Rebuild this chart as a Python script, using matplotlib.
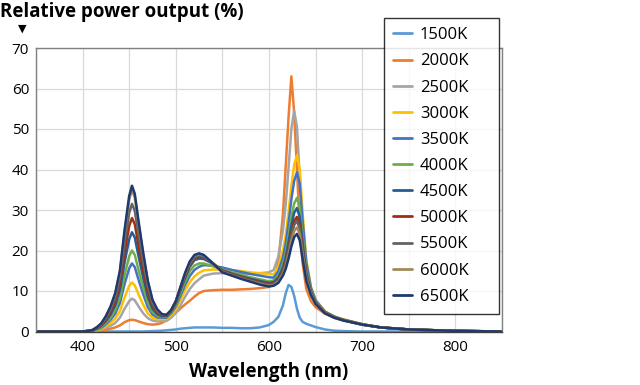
import matplotlib
matplotlib.use("Agg")
import matplotlib.pyplot as plt
from matplotlib.ticker import MultipleLocator

plt.rcParams['font.family'] = ['Open Sans', 'DejaVu Sans']

wavelength = [350, 400, 410, 415, 420, 425, 430, 435, 440, 445,
              450, 453, 456, 460, 465, 470, 475, 480, 485, 490,
              495, 500, 505, 510, 515, 520, 525, 530, 540, 550,
              560, 570, 580, 590, 600, 605, 610, 615, 618, 621,
              624, 627, 630, 633, 636, 640, 645, 650, 660, 670,
              680, 700, 720, 750, 800, 850]

labels = ["1500K", "2000K", "2500K", "3000K", "3500K", "4000K",
          "4500K", "5000K", "5500K", "6000K", "6500K"]
colors = ["#5B9BD5", "#ED7D31", "#A5A5A5", "#FFC000", "#4472C4", "#70AD47",
          "#255E91", "#9E2E1A", "#636363", "#A08A5A", "#1F3A70"]

s1500 = [0, 0, 0, 0, 0, 0, 0, 0, 0, 0,
         0, 0, 0, 0, 0, 0.05, 0.1, 0.15, 0.2, 0.3,
         0.4, 0.5, 0.7, 0.8, 0.9, 1.0, 1.0, 1.0, 1.0, 0.9,
         0.9, 0.8, 0.8, 1.0, 1.6, 2.4, 3.6, 6.5, 9.5, 11.5,
         11.0, 8.8, 5.6, 3.4, 2.4, 1.9, 1.5, 1.1, 0.5, 0.2,
         0.1, 0, 0, 0, 0, 0]
s2000 = [0, 0, 0, 0.1, 0.2, 0.4, 0.7, 1.0, 1.5, 2.3,
         2.8, 2.9, 2.8, 2.5, 2.1, 1.8, 1.7, 1.8, 2.1, 2.8,
         3.6, 4.6, 5.7, 6.7, 7.6, 8.6, 9.5, 10.0, 10.2, 10.3,
         10.3, 10.4, 10.5, 10.7, 11.0, 12.3, 17.0, 29.0, 41.0, 53.0,
         63.0, 54.0, 40.0, 26.0, 17.0, 10.5, 7.5, 6.0, 4.4, 3.4,
         2.9, 1.8, 1.0, 0.5, 0.15, 0]
s2500 = [0, 0, 0.1, 0.2, 0.5, 0.9, 1.4, 2.1, 3.4, 5.6,
         7.5, 8.1, 7.7, 6.2, 4.5, 3.3, 2.7, 2.5, 2.6, 2.6,
         3.4, 4.6, 6.5, 8.6, 10.5, 11.9, 12.9, 13.8, 14.3, 14.4,
         14.4, 14.3, 14.3, 14.4, 14.6, 15.2, 18.5, 25.0, 31.5, 40.5,
         50.0, 54.5, 50.5, 38.0, 26.0, 15.0, 9.8, 7.2, 4.8, 3.6,
         2.9, 1.8, 1.0, 0.5, 0.15, 0]
s3000 = [0, 0, 0.1, 0.3, 0.7, 1.3, 2.1, 3.2, 5.0, 8.4,
         11.3, 12.1, 11.4, 9.2, 6.6, 4.5, 3.4, 3.0, 3.1, 3.1,
         4.0, 5.5, 7.8, 10.2, 12.2, 13.6, 14.5, 15.1, 15.3, 15.3,
         15.2, 14.9, 14.6, 14.4, 14.2, 14.1, 15.9, 20.0, 24.0, 29.5,
         36.0, 41.2, 43.5, 40.0, 29.5, 17.8, 11.0, 7.8, 5.0, 3.7,
         3.0, 1.8, 1.0, 0.5, 0.15, 0]
s3500 = [0, 0, 0.1, 0.5, 0.9, 1.8, 2.9, 4.4, 7.0, 11.7,
         15.6, 16.8, 15.9, 12.8, 9.2, 6.0, 4.2, 3.5, 3.4, 3.4,
         4.5, 6.2, 8.8, 11.5, 13.7, 15.2, 16.0, 16.4, 16.2, 15.8,
         15.2, 14.7, 14.2, 13.8, 13.4, 13.3, 14.8, 18.3, 21.8, 26.8,
         32.6, 37.2, 39.3, 36.5, 27.5, 17.0, 10.8, 7.7, 4.9, 3.7,
         2.9, 1.8, 1.0, 0.5, 0.15, 0]
s4000 = [0, 0, 0.2, 0.6, 1.1, 2.1, 3.4, 5.3, 8.3, 13.9,
         18.6, 20.0, 18.9, 15.2, 10.9, 7.1, 4.8, 3.9, 3.6, 3.6,
         4.8, 6.6, 9.5, 12.4, 14.9, 16.3, 16.8, 16.8, 16.1, 15.3,
         14.6, 14.0, 13.4, 12.9, 12.4, 12.6, 13.8, 16.6, 19.4, 23.5,
         28.2, 31.6, 33.0, 30.6, 23.6, 15.3, 10.2, 7.4, 4.8, 3.6,
         2.9, 1.8, 1.0, 0.5, 0.15, 0]
s4500 = [0, 0, 0.2, 0.7, 1.4, 2.6, 4.2, 6.5, 10.2, 17.0,
         22.8, 24.5, 23.2, 18.6, 13.3, 8.6, 5.6, 4.3, 3.8, 3.8,
         5.0, 7.0, 10.2, 13.3, 16.0, 17.6, 18.0, 17.9, 16.7, 15.1,
         14.3, 13.6, 13.0, 12.5, 12.0, 12.2, 13.3, 15.8, 18.3, 22.0,
         26.2, 29.3, 30.5, 28.3, 22.0, 14.5, 9.8, 7.2, 4.7, 3.5,
         2.8, 1.7, 1.0, 0.5, 0.15, 0]
s5000 = [0, 0, 0.2, 0.8, 1.6, 3.0, 4.8, 7.4, 11.7, 19.4,
         26.1, 28.0, 26.5, 21.2, 15.2, 9.8, 6.3, 4.7, 4.0, 3.9,
         5.1, 7.2, 10.5, 13.7, 16.5, 18.1, 18.5, 18.3, 16.8, 15.0,
         14.2, 13.5, 12.8, 12.2, 11.7, 11.9, 12.9, 15.1, 17.4, 20.7,
         24.5, 27.3, 28.3, 26.3, 20.6, 13.8, 9.5, 7.0, 4.7, 3.5,
         2.8, 1.7, 1.0, 0.5, 0.15, 0]
s5500 = [0, 0, 0.3, 0.9, 1.8, 3.3, 5.4, 8.3, 13.1, 21.9,
         29.3, 31.5, 29.8, 23.9, 17.1, 11.0, 6.9, 5.0, 4.1, 4.0,
         5.2, 7.4, 10.7, 14.0, 16.8, 18.4, 18.8, 18.5, 16.8, 14.8,
         14.0, 13.3, 12.6, 12.0, 11.5, 11.7, 12.6, 14.7, 16.9, 20.0,
         23.6, 26.3, 27.3, 25.4, 20.0, 13.5, 9.4, 7.0, 4.6, 3.5,
         2.8, 1.7, 1.0, 0.5, 0.15, 0]
s6000 = [0, 0, 0.3, 1.0, 1.9, 3.7, 6.0, 9.2, 14.6, 24.3,
         32.6, 35.0, 33.1, 26.5, 19.0, 12.2, 7.6, 5.4, 4.3, 4.1,
         5.3, 7.5, 10.9, 14.3, 17.1, 18.7, 19.1, 18.8, 16.8, 14.7,
         13.9, 13.1, 12.4, 11.8, 11.3, 11.5, 12.3, 14.2, 16.2, 19.0,
         22.3, 24.8, 25.7, 24.0, 19.0, 13.0, 9.2, 6.9, 4.6, 3.4,
         2.7, 1.7, 1.0, 0.5, 0.15, 0]
s6500 = [0, 0, 0.3, 1.0, 2.0, 3.8, 6.2, 9.5, 15.0, 25.0,
         33.5, 36.0, 34.0, 27.3, 19.5, 12.5, 7.8, 5.5, 4.3, 4.1,
         5.3, 7.5, 11.0, 14.5, 17.3, 18.9, 19.3, 18.9, 16.8, 14.6,
         13.8, 13.0, 12.3, 11.6, 11.1, 11.3, 12.0, 13.8, 15.5, 18.0,
         21.0, 23.3, 24.1, 22.5, 18.0, 12.5, 9.0, 6.8, 4.5, 3.4,
         2.7, 1.7, 1.0, 0.5, 0.15, 0]

series = [s1500, s2000, s2500, s3000, s3500, s4000,
          s4500, s5000, s5500, s6000, s6500]

fig = plt.figure(figsize=(6.4, 3.85), dpi=100)
ax = fig.add_axes([36/640, 1 - 331.5/385, (502 - 36)/640, (331.5 - 48)/385])

for ys, lab, c in zip(series, labels, colors):
    ax.plot(wavelength, ys, color=c, lw=1.8, label=lab,
            solid_joinstyle='round', solid_capstyle='round')

ax.set_xlim(350, 850)
ax.set_ylim(0, 70)
ax.xaxis.set_major_locator(MultipleLocator(100))
ax.xaxis.set_minor_locator(MultipleLocator(50))
ax.yaxis.set_major_locator(MultipleLocator(10))
ax.grid(True, which='both', color='#D9D9D9', lw=0.9)
ax.set_axisbelow(True)
ax.tick_params(which='both', length=0, labelsize=11, colors='#000000')
ax.tick_params(axis='y', pad=5)
ax.tick_params(axis='x', pad=6)
for side in ['top', 'right', 'left']:
    ax.spines[side].set_color('#808080')
    ax.spines[side].set_linewidth(1.0)
ax.spines['bottom'].set_color('#404040')
ax.spines['bottom'].set_linewidth(1.0)

ax.set_xlabel("Wavelength (nm)", fontsize=13.5, fontweight='bold', labelpad=5)
fig.text(0.0, 1 - 17/385, "Relative power output (%)", fontsize=13.5,
         fontweight='bold', ha='left', va='baseline')
fig.text(22/640, 1 - 28.5/385, "▼", fontsize=8, ha='center', va='center',
         family=['DejaVu Sans'])

leg = fig.legend(loc='upper left',
                 bbox_to_anchor=(384/640, 1 - 308/385, 115/640, 290/385),
                 mode='expand', frameon=True, fancybox=False, fontsize=12,
                 handlelength=1.15, handletextpad=0.45, labelspacing=0.61,
                 borderpad=0.55, borderaxespad=0)
leg.get_frame().set_edgecolor('#000000')
leg.get_frame().set_linewidth(1.0)
for line in leg.get_lines():
    line.set_linewidth(2)

fig.savefig("out.png", dpi=100)
